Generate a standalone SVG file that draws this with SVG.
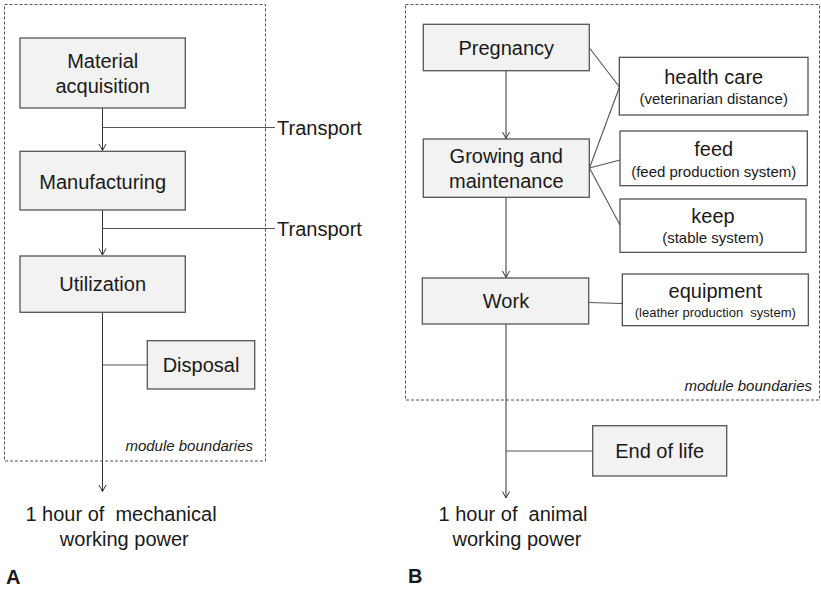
<svg xmlns="http://www.w3.org/2000/svg" width="821" height="590" viewBox="0 0 821 590">
<style>
text{font-family:"Liberation Sans",Arial,sans-serif;fill:#1a1a1a;text-anchor:middle;white-space:pre}
.m{font-size:20px}
.s{font-size:15px}
.xs{font-size:13px}
.it{font-size:15px;font-style:italic;text-anchor:end}
.l{text-anchor:start}
.b{font-weight:bold;text-anchor:start}
.g{fill:#f2f2f2;stroke:#555;stroke-width:1.3}
.w{fill:#fff;stroke:#444;stroke-width:1.2}
.d{fill:none;stroke:#555;stroke-width:1;stroke-dasharray:3 2}
.c{fill:none;stroke:#333;stroke-width:1}
.h{fill:none;stroke:#555;stroke-width:1.1}
</style>
<defs>
<marker id="ah" markerUnits="userSpaceOnUse" markerWidth="9" markerHeight="9" viewBox="0 0 9 9" refX="8" refY="4.5" orient="auto">
<path d="M1.5,1 L8,4.5 L1.5,8" fill="none" stroke="#333" stroke-width="1"/>
</marker>
</defs>
<g id="boundaryA">
<rect class="d" x="4.5" y="4.5" width="261" height="456.5"/>
<text class="it" x="253" y="451">module boundaries</text>
</g>
<g id="boundaryB">
<rect class="d" x="405.5" y="4.5" width="414" height="395.5"/>
<text class="it" x="812" y="391">module boundaries</text>
</g>
<g id="connectors">
<path class="c" d="M102.5,108 V150.5" marker-end="url(#ah)"/>
<path class="c" d="M102.5,210 V255" marker-end="url(#ah)"/>
<path class="c" d="M102.5,312 V491.5" marker-end="url(#ah)"/>
<path class="h" d="M102.5,127.5 H275"/>
<path class="h" d="M102.5,228.5 H275"/>
<path class="h" d="M102.5,365 H147.5"/>
<path class="c" d="M506,70.7 V138.5" marker-end="url(#ah)"/>
<path class="c" d="M506,197.3 V277.5" marker-end="url(#ah)"/>
<path class="c" d="M506,324 V498" marker-end="url(#ah)"/>
<path class="h" d="M589.5,48 L619.5,87"/>
<path class="h" d="M589.5,168 L619.5,87"/>
<path class="h" d="M589.5,168 L620,160"/>
<path class="h" d="M589.5,168 L620,225"/>
<path class="h" d="M588.7,302.5 L622.3,303.5"/>
<path class="h" d="M506,451 H592.7"/>
</g>
<g id="material-acquisition">
<rect class="g" x="20" y="38" width="165.3" height="70"/>
<text class="m" x="102.7" y="67.9">Material</text>
<text class="m" x="102.7" y="92.7">acquisition</text>
</g>
<g id="manufacturing">
<rect class="g" x="20" y="151.3" width="165.3" height="58.7"/>
<text class="m" x="102.7" y="188.5">Manufacturing</text>
</g>
<g id="utilization">
<rect class="g" x="20" y="256" width="165.3" height="56.3"/>
<text class="m" x="102.7" y="290.9">Utilization</text>
</g>
<g id="disposal">
<rect class="g" x="147.3" y="340.7" width="107.4" height="48.3"/>
<text class="m" x="201" y="371.9">Disposal</text>
</g>
<g id="transport1"><text class="m l" x="277" y="134.5">Transport</text></g>
<g id="transport2"><text class="m l" x="277" y="235.9">Transport</text></g>
<g id="outputA">
<text class="m" x="121" y="520.9">1 hour of  mechanical</text>
<text class="m" x="124.3" y="546.2">working power</text>
</g>
<g id="labelA"><text class="m b" x="6" y="583.5">A</text></g>
<g id="pregnancy">
<rect class="g" x="423.3" y="24.3" width="166" height="46.4"/>
<text class="m" x="506.3" y="55.2">Pregnancy</text>
</g>
<g id="growing">
<rect class="g" x="423.3" y="139" width="166" height="58.3"/>
<text class="m" x="506.3" y="162.5">Growing and</text>
<text class="m" x="506.3" y="187.9">maintenance</text>
</g>
<g id="work">
<rect class="g" x="422.3" y="278" width="166.4" height="46"/>
<text class="m" x="506" y="307.5">Work</text>
</g>
<g id="health-care">
<rect class="w" x="619.3" y="57.3" width="188.7" height="57.7"/>
<text class="m" x="713.7" y="83.5">health care</text>
<text class="s" x="713.7" y="104.2">(veterinarian distance)</text>
</g>
<g id="feed">
<rect class="w" x="620" y="131" width="187.3" height="54.7"/>
<text class="m" x="713.7" y="156.2">feed</text>
<text class="s" x="713.7" y="176.5">(feed production system)</text>
</g>
<g id="keep">
<rect class="w" x="620" y="199" width="186" height="53.3"/>
<text class="m" x="713" y="222.5">keep</text>
<text class="s" x="713" y="243.2">(stable system)</text>
</g>
<g id="equipment">
<rect class="w" x="622.3" y="274" width="186" height="51.7"/>
<text class="m" x="715.3" y="297.9">equipment</text>
<text class="xs" x="715.3" y="317">(leather production  system)</text>
</g>
<g id="end-of-life">
<rect class="g" x="592.7" y="425.7" width="134" height="50.3"/>
<text class="m" x="659.7" y="457.5">End of life</text>
</g>
<g id="outputB">
<text class="m" x="513" y="521.2">1 hour of  animal</text>
<text class="m" x="517" y="546.2">working power</text>
</g>
<g id="labelB"><text class="m b" x="408" y="582.9">B</text></g>
</svg>
